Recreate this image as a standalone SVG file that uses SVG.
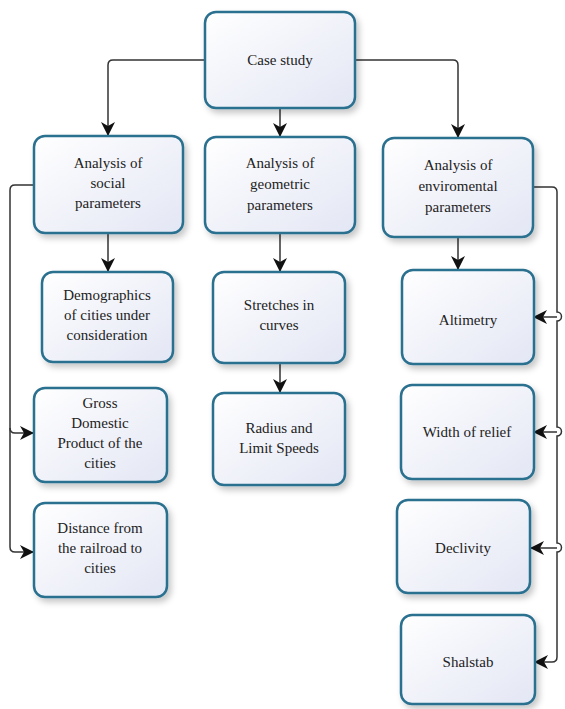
<svg xmlns="http://www.w3.org/2000/svg" width="565" height="709" viewBox="0 0 565 709">
<defs>
<linearGradient id="g" x1="0" y1="0" x2="1" y2="1">
<stop offset="0" stop-color="#ffffff"/>
<stop offset="1" stop-color="#e3e6f4"/>
</linearGradient>
<filter id="sh" x="-10%" y="-10%" width="130%" height="130%">
<feDropShadow dx="3" dy="4" stdDeviation="3" flood-color="#000" flood-opacity="0.22"/>
</filter>
<marker id="ar" viewBox="0 0 14 14" refX="13" refY="7" markerWidth="14" markerHeight="14" markerUnits="userSpaceOnUse" orient="auto">
<path d="M0,0 L14,7 L0,14 L4,7 z" fill="#111"/>
</marker>
</defs>
<style>
.box{fill:url(#g);stroke:#2b6f8f;stroke-width:2.5;filter:url(#sh)}
.t{font-size:15px;fill:#222;text-anchor:middle}
.c{fill:none;stroke:#333;stroke-width:1.5}
.ca{fill:none;stroke:#333;stroke-width:1.5;marker-end:url(#ar)}
</style>
<rect width="565" height="709" fill="#fff"/>

<g id="connectors">
<path class="ca" d="M205,60 H113 Q108,60 108,65 V135"/>
<path class="ca" d="M280,108 V136"/>
<path class="ca" d="M355,60 H453 Q458,60 458,65 V137"/>
<path class="ca" d="M108,233 V271"/>
<path class="c" d="M33,185 H15 Q10,185 10,190 V547"/>
<path class="ca" d="M10,428 Q10,433 15,433 H33"/>
<path class="ca" d="M10,547 Q10,552 15,552 H33"/>
<path class="ca" d="M280,233 V271"/>
<path class="ca" d="M280,363 V392"/>
<path class="ca" d="M458,237 V269"/>
<path class="c" d="M533,187 H552 Q557,187 557,192 V312 A4.5,4.5 0 0 1 557,321 V427 A4.5,4.5 0 0 1 557,436 V543 A4.5,4.5 0 0 1 557,552 V657 Q557,662 552,662"/>
<path class="ca" d="M552,662 H535"/>
<path class="ca" d="M557,317 H534"/>
<path class="ca" d="M557,432 H534"/>
<path class="ca" d="M557,548 H531"/>
</g>

<g id="nodes" font-family="Liberation Serif, Times New Roman, serif">
<g id="case-study">
<rect class="box" x="205" y="12" width="150" height="96" rx="11"/>
<text class="t" x="280" y="65">Case study</text>
</g>
<g id="social">
<rect class="box" x="34" y="136" width="149" height="97" rx="11"/>
<text class="t" x="108" y="168">Analysis of</text>
<text class="t" x="108" y="188">social</text>
<text class="t" x="108" y="208">parameters</text>
</g>
<g id="geometric">
<rect class="box" x="205" y="137" width="150" height="96" rx="11"/>
<text class="t" x="280" y="168">Analysis of</text>
<text class="t" x="280" y="189">geometric</text>
<text class="t" x="280" y="210">parameters</text>
</g>
<g id="enviromental">
<rect class="box" x="383" y="138" width="150" height="99" rx="11"/>
<text class="t" x="458" y="170">Analysis of</text>
<text class="t" x="458" y="191">enviromental</text>
<text class="t" x="458" y="212">parameters</text>
</g>
<g id="demographics">
<rect class="box" x="42" y="272" width="131" height="90" rx="11"/>
<text class="t" x="107" y="300">Demographics</text>
<text class="t" x="107" y="320">of cities under</text>
<text class="t" x="107" y="340">consideration</text>
</g>
<g id="gdp">
<rect class="box" x="34" y="388" width="133" height="94" rx="11"/>
<text class="t" x="100" y="408">Gross</text>
<text class="t" x="100" y="428">Domestic</text>
<text class="t" x="100" y="448">Product of the</text>
<text class="t" x="100" y="468">cities</text>
</g>
<g id="distance">
<rect class="box" x="34" y="503" width="133" height="94" rx="11"/>
<text class="t" x="100" y="533">Distance from</text>
<text class="t" x="100" y="553">the railroad to</text>
<text class="t" x="100" y="573">cities</text>
</g>
<g id="stretches">
<rect class="box" x="213" y="272" width="132" height="91" rx="11"/>
<text class="t" x="279" y="310">Stretches in</text>
<text class="t" x="279" y="330">curves</text>
</g>
<g id="radius">
<rect class="box" x="213" y="393" width="132" height="92" rx="11"/>
<text class="t" x="279" y="433">Radius and</text>
<text class="t" x="279" y="453">Limit Speeds</text>
</g>
<g id="altimetry">
<rect class="box" x="402" y="270" width="132" height="94" rx="11"/>
<text class="t" x="468" y="325">Altimetry</text>
</g>
<g id="width-of-relief">
<rect class="box" x="401" y="385" width="133" height="94" rx="11"/>
<text class="t" x="467" y="437">Width of relief</text>
</g>
<g id="declivity">
<rect class="box" x="397" y="500" width="133" height="93" rx="11"/>
<text class="t" x="463" y="553">Declivity</text>
</g>
<g id="shalstab">
<rect class="box" x="401" y="615" width="134" height="89" rx="11"/>
<text class="t" x="468" y="667">Shalstab</text>
</g>
</g>
</svg>
